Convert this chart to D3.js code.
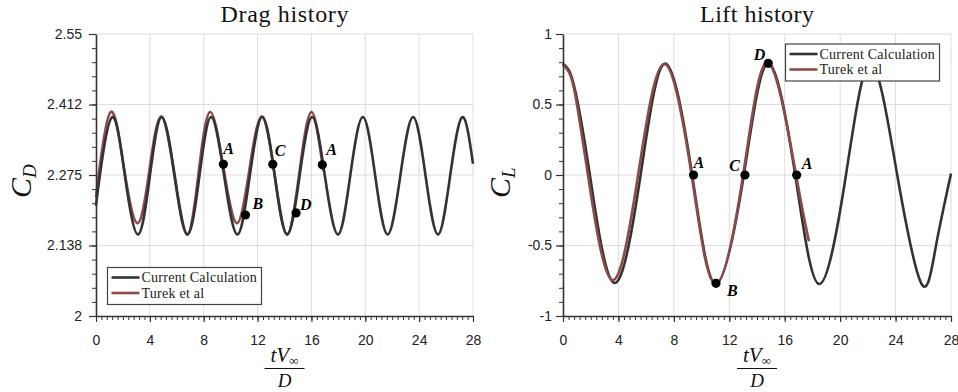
<!DOCTYPE html>
<html>
<head>
<meta charset="utf-8">
<script src="https://cdn.jsdelivr.net/npm/d3@7"></script>
<style>
  body { margin: 0; background: #fff; }
  svg { display: block; }
</style>
</head>
<body>
<svg id="chart" width="958" height="392"></svg>
<script>
// ---- data -------------------------------------------------------------
const timeTicks = [0, 4, 8, 12, 16, 20, 24, 28];
const dragTicks = [2, 2.1375, 2.275, 2.4125, 2.55];
const dragTickLabels = ["2", "2.138", "2.275", "2.412", "2.55"];
const liftTicks = [-1, -0.5, 0, 0.5, 1];
const liftTickLabels = ["-1", "-0.5", "0", "0.5", "1"];
const seriesNames = ["Current Calculation", "Turek et al"];

// [tV/D, C_D]
const dragCurrent = [
  [0, 2.215], [0.28, 2.273], [1.2, 2.388], [2.15, 2.273], [3.12, 2.159],
  [4.0, 2.273], [4.88, 2.388], [5.85, 2.273], [6.8, 2.159], [7.68, 2.273],
  [8.55, 2.388], [9.52, 2.273], [10.5, 2.159], [11.42, 2.273], [12.35, 2.388],
  [13.28, 2.273], [14.2, 2.159], [15.12, 2.273], [16.05, 2.388], [17.0, 2.273],
  [17.97, 2.159], [18.88, 2.273], [19.82, 2.388], [20.74, 2.273], [21.66, 2.159],
  [22.6, 2.273], [23.55, 2.388], [24.48, 2.273], [25.4, 2.159], [26.3, 2.273],
  [27.2, 2.388], [28, 2.297]
];
const dragTurek = [
  [0, 2.232], [0.22, 2.279], [1.09, 2.398], [2.07, 2.29], [3.08, 2.181],
  [3.97, 2.285], [4.85, 2.389], [5.82, 2.274], [6.78, 2.159], [7.62, 2.279],
  [8.47, 2.398], [9.46, 2.29], [10.46, 2.181], [11.39, 2.285], [12.33, 2.389],
  [13.27, 2.274], [14.2, 2.159], [15.1, 2.279], [16.0, 2.398], [16.88, 2.283]
];
// [tV/D, C_L]
const liftCurrent = [
  [0, 0.79], [0.45, 0.738], [0.95, 0.567], [1.94, 0], [3.68, -0.765], [5.6, 0],
  [7.38, 0.79], [9.32, 0], [11.04, -0.773], [13.05, 0], [14.82, 0.792],
  [16.76, 0], [18.5, -0.773], [20.42, 0], [22.2, 0.79], [24.12, 0],
  [25.88, -0.773], [26.9, -0.51], [28, 0.01]
];
const liftTurek = [
  [0, 0.785], [0.45, 0.725], [0.9, 0.56], [1.8, 0], [3.54, -0.745], [5.42, 0],
  [7.3, 0.787], [9.28, 0], [11.0, -0.772], [13.0, 0], [14.8, 0.795],
  [16.82, 0], [17.75, -0.47]
];
// marked instants: [tV/D, value, name]
const dragMarkers = [
  [9.46, 2.296, "A"], [11.1, 2.197, "B"], [13.13, 2.296, "C"],
  [14.86, 2.201, "D"], [16.81, 2.295, "A"]
];
const liftMarkers = [
  [9.42, 0, "A"], [11.04, -0.768, "B"], [13.13, 0, "C"],
  [14.81, 0.792, "D"], [16.86, 0, "A"]
];

// ---- styling ----------------------------------------------------------
const COLOR_CURRENT = "#333333";
const COLOR_TUREK = "#8c4a4b";
const GRID = "#dddddd";
const AXIS = "#333333";
const SERIF = "'Liberation Serif', 'DejaVu Serif', serif";
const SANS = "'Liberation Sans', Arial, sans-serif";

const svg = d3.select("#chart");

function minorValues(lo, hi, step) {
  const out = [];
  const n = Math.round((hi - lo) / step);
  for (let i = 0; i <= n; i++) out.push(lo + i * step);
  return out;
}

function drawPanel(cfg) {
  const x = d3.scaleLinear().domain([0, 28]).range([cfg.left, cfg.right]);
  const y = d3.scaleLinear().domain(cfg.yDomain).range([316, 34]);
  const g = svg.append("g");

  // grid + light frame
  g.append("g").selectAll("line").data(timeTicks.slice(1)).join("line")
    .attr("x1", d => x(d)).attr("x2", d => x(d))
    .attr("y1", y.range()[0]).attr("y2", y.range()[1])
    .attr("stroke", GRID).attr("stroke-width", 1);
  g.append("g").selectAll("line").data(cfg.yTicks.slice(1)).join("line")
    .attr("x1", x.range()[0]).attr("x2", x.range()[1])
    .attr("y1", d => y(d)).attr("y2", d => y(d))
    .attr("stroke", GRID).attr("stroke-width", 1);

  // minor ticks
  g.append("g").attr("transform", `translate(0,${y.range()[0]})`)
    .call(d3.axisBottom(x).tickValues(minorValues(0, 28, 0.4)).tickSize(4).tickSizeOuter(0).tickFormat(""))
    .call(a => a.select(".domain").remove())
    .call(a => a.selectAll("line").attr("stroke", AXIS).attr("stroke-width", 1));
  g.append("g").attr("transform", `translate(${x.range()[0]},0)`)
    .call(d3.axisLeft(y).tickValues(minorValues(cfg.yDomain[0], cfg.yDomain[1], cfg.yMinor)).tickSize(4).tickSizeOuter(0).tickFormat(""))
    .call(a => a.select(".domain").remove())
    .call(a => a.selectAll("line").attr("stroke", AXIS).attr("stroke-width", 1));

  // curves
  const line = d3.line().x(d => x(d[0])).y(d => y(d[1])).curve(d3.curveNatural);
  const order = cfg.turekOnTop
    ? [[cfg.current, COLOR_CURRENT], [cfg.turek, COLOR_TUREK]]
    : [[cfg.turek, COLOR_TUREK], [cfg.current, COLOR_CURRENT]];
  order.forEach(([data, col]) => {
    g.append("path").datum(data).attr("d", line)
      .attr("fill", "none").attr("stroke", col).attr("stroke-width", 2.6)
      .attr("stroke-linejoin", "round");
  });

  // major axes
  const xAxis = g.append("g").attr("transform", `translate(0,${y.range()[0]})`)
    .call(d3.axisBottom(x).tickValues(timeTicks).tickSize(6).tickSizeOuter(0));
  xAxis.selectAll("text").attr("y", 19).attr("dy", "0.71em");
  const yAxis = g.append("g").attr("transform", `translate(${x.range()[0]},0)`)
    .call(d3.axisLeft(y).tickValues(cfg.yTicks).tickSize(7).tickSizeOuter(0)
      .tickPadding(cfg.yPad).tickFormat((d, i) => cfg.yLabels[i]));
  [xAxis, yAxis].forEach(a => {
    a.select(".domain").attr("stroke", AXIS).attr("stroke-width", 1.6);
    a.selectAll(".tick line").attr("stroke", AXIS).attr("stroke-width", 1.2);
    a.selectAll("text").attr("font-family", SANS).attr("font-size", 14).attr("fill", "#222");
  });

  // marked instants
  cfg.markers.forEach((m, i) => {
    const cx = x(m[0]), cy = y(m[1]);
    g.append("circle").attr("cx", cx).attr("cy", cy).attr("r", 4.6).attr("fill", "#000");
    const off = cfg.markerOffsets[i];
    g.append("text").attr("x", cx + off[0]).attr("y", cy + off[1])
      .attr("text-anchor", off[2] || "start")
      .attr("font-family", SERIF).attr("font-size", 16).attr("font-weight", "bold")
      .attr("font-style", "italic").attr("fill", "#000").text(m[2]);
  });

  // legend
  const lg = g.append("g").attr("transform", `translate(${cfg.legend[0]},${cfg.legend[1]})`);
  lg.append("rect").attr("width", 154).attr("height", 37)
    .attr("fill", "#fff").attr("stroke", "#444").attr("stroke-width", 1.2);
  [[COLOR_CURRENT, 10], [COLOR_TUREK, 25.5]].forEach(([col, yy], i) => {
    lg.append("line").attr("x1", 4).attr("x2", 32).attr("y1", yy).attr("y2", yy)
      .attr("stroke", col).attr("stroke-width", 2.6);
    lg.append("text").attr("x", 34).attr("y", yy + 4.5)
      .attr("font-family", SERIF).attr("font-size", 14).attr("letter-spacing", 0.25)
      .attr("fill", "#222").text(seriesNames[i]);
  });

  // title
  const cxm = (cfg.left + cfg.right) / 2;
  g.append("text").attr("x", cxm).attr("y", 22).attr("text-anchor", "middle")
    .attr("font-family", SERIF).attr("font-size", 24)
    .attr("textLength", cfg.titleWidth).attr("lengthAdjust", "spacing")
    .attr("fill", "#111").text(cfg.title);

  // x label as a fraction tV∞ / D
  const num = g.append("text").attr("x", cxm).attr("y", 362).attr("text-anchor", "middle")
    .attr("font-family", SERIF).attr("font-size", 21).attr("font-style", "italic").attr("fill", "#111");
  num.append("tspan").text("tV");
  num.append("tspan").attr("font-size", 13).attr("font-style", "normal").attr("dy", 3).text("∞");
  g.append("line").attr("x1", cxm - 20).attr("x2", cxm + 20).attr("y1", 368.5).attr("y2", 368.5)
    .attr("stroke", "#111").attr("stroke-width", 1.2);
  g.append("text").attr("x", cxm).attr("y", 387).attr("text-anchor", "middle")
    .attr("font-family", SERIF).attr("font-size", 19).attr("font-style", "italic").attr("fill", "#111").text("D");

  // y label C_D / C_L
  const yl = g.append("text").attr("transform", `translate(${cfg.yLabelX},198) rotate(-90)`)
    .attr("font-family", SERIF).attr("font-size", 30).attr("font-style", "italic").attr("fill", "#111");
  yl.append("tspan").text("C");
  yl.append("tspan").attr("font-size", 19).attr("dy", 5).text(cfg.sub);
}

drawPanel({
  left: 96, right: 473, yDomain: [2, 2.55], yTicks: dragTicks, yLabels: dragTickLabels,
  yMinor: 0.0275, yPad: 7, current: dragCurrent, turek: dragTurek, turekOnTop: false,
  markers: dragMarkers,
  markerOffsets: [[0, -10], [7, -6], [2, -8], [4, -3], [4, -10]],
  legend: [107.5, 267.5], title: "Drag history", titleWidth: 128, yLabelX: 31, sub: "D"
});
drawPanel({
  left: 563, right: 951, yDomain: [-1, 1], yTicks: liftTicks, yLabels: liftTickLabels,
  yMinor: 0.1, yPad: 4, current: liftCurrent, turek: liftTurek, turekOnTop: true,
  markers: liftMarkers,
  markerOffsets: [[0, -7], [11, 13], [-5, -4, "end"], [-3, -3, "end"], [5, -6]],
  legend: [785.5, 44], title: "Lift history", titleWidth: 114, yLabelX: 510, sub: "L"
});
</script>
</body>
</html>
